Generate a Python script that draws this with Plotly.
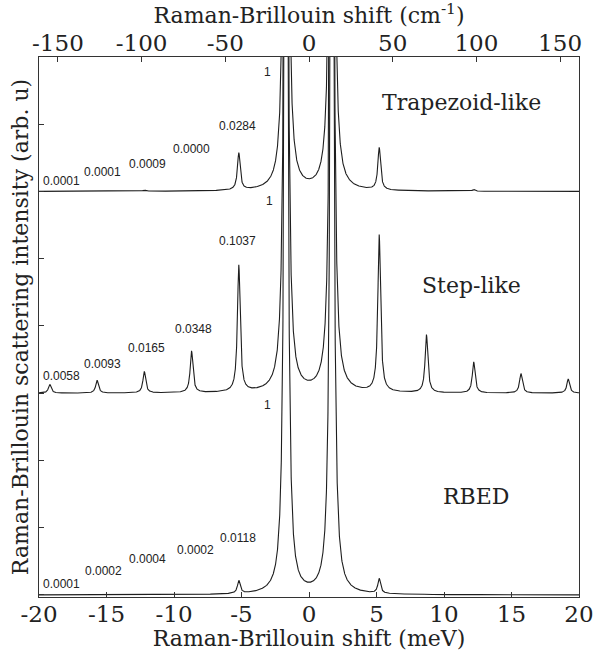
import numpy as np
import plotly.graph_objects as go

MEV_TO_CM = 8.0655  # 1 meV in cm^-1 (top axis)

# ---- data ----
peak_pos = [-19.2, -15.7, -12.2, -8.7, -5.2, -1.7, 1.7, 5.2, 8.7, 12.2, 15.7, 19.2]  # meV
# peak heights above each baseline (arb. units)
rbed_heights = [0.002, 0.004, 0.008, 0.004, 0.19, 19.0, 19.0, 0.22, 0.006, 0.012, 0.004, 0.003]
step_heights = [0.13, 0.19, 0.32, 0.62, 1.88, 19.0, 19.0, 2.33, 0.86, 0.46, 0.29, 0.21]
trap_heights = [0.002, 0.002, 0.017, 0.0, 0.55, 19.0, 19.0, 0.63, 0.0, 0.027, 0.0, 0.0]
peak_hwhm = 0.12  # meV
baselines = [0, 3, 6]
series_names = ["RBED", "Step-like", "Trapezoid-like"]

rbed_labels = ["0.0001", "0.0002", "0.0004", "0.0002", "0.0118", "1"]
step_labels = ["0.0058", "0.0093", "0.0165", "0.0348", "0.1037", "1"]
trap_labels = ["0.0001", "0.0001", "0.0009", "0.0000", "0.0284", "1"]

bottom_ticks = [-20, -15, -10, -5, 0, 5, 10, 15, 20]
bottom_ticktext = ["-20", "-15", "-10", "-5", "0", "5", "10", "15", "20"]
top_ticks = [-150, -100, -50, 0, 50, 100, 150]
top_ticktext = ["-150", "-100", "-50", "0", "50", "100", "150"]

# ---- label placement (layout only) ----
label_xy = [
    ([-18.3, -15.19, -11.93, -8.44, -5.26, -3.04], [0.16, 0.35, 0.53, 0.67, 0.84, 2.82]),
    ([-18.3, -15.26, -12.07, -8.59, -5.26, -2.89], [3.25, 3.43, 3.67, 3.96, 5.27, 5.86]),
    ([-18.3, -15.26, -12.0, -8.74, -5.33, -3.11], [6.15, 6.29, 6.41, 6.63, 6.97, 7.77]),
]
name_xy = [(12.37, 1.47), (12.07, 4.6), (11.26, 7.33)]

x = np.linspace(-20, 20, 8001)


def spectrum(heights, base):
    y = np.full_like(x, float(base))
    for p, h in zip(peak_pos, heights):
        y += h * peak_hwhm ** 2 / ((x - p) ** 2 + peak_hwhm ** 2)
    return y


fig = go.Figure()
for heights, base, name in zip([rbed_heights, step_heights, trap_heights], baselines, series_names):
    fig.add_trace(go.Scatter(x=x, y=spectrum(heights, base), mode="lines", name=name,
                             line=dict(color="#1e1e1e", width=1.1), showlegend=False,
                             hoverinfo="skip"))
fig.add_trace(go.Scatter(x=[], y=[], xaxis="x2", showlegend=False, hoverinfo="skip"))

serif = "DejaVu Serif, Liberation Serif, serif"

annotations = []
for labels, (lx, ly) in zip([rbed_labels, step_labels, trap_labels], label_xy):
    for t, ax_, ay_ in zip(labels, lx, ly):
        annotations.append(dict(x=ax_, y=ay_, xref="x", yref="y", text=t, showarrow=False,
                                font=dict(family="Liberation Sans, Arial, sans-serif", size=12, color="#222")))
for name, (nx, ny) in zip(series_names, name_xy):
    annotations.append(dict(x=nx, y=ny, xref="x", yref="y", text=name, showarrow=False,
                            font=dict(family=serif, size=22, color="#222")))

fig.update_layout(
    width=596, height=651,
    margin=dict(l=39, r=17, t=57, b=54),
    paper_bgcolor="white", plot_bgcolor="white",
    font=dict(family=serif, color="#222"),
    annotations=annotations,
    xaxis=dict(range=[-20, 20], tickvals=bottom_ticks, ticktext=bottom_ticktext,
               ticks="inside", ticklen=5, tickcolor="#333",
               showline=True, linecolor="#333", linewidth=1, mirror=True, showgrid=False, zeroline=False,
               tickfont=dict(family=serif, size=23, color="#222"), ticklabelstandoff=-4,
               title=dict(text="Raman-Brillouin shift (meV)", font=dict(family=serif, size=22, color="#222"),
                          standoff=6),
               automargin=False),
    xaxis2=dict(overlaying="x", side="top", range=[-20 * MEV_TO_CM, 20 * MEV_TO_CM],
                tickvals=top_ticks, ticktext=top_ticktext,
                ticks="inside", ticklen=5, tickcolor="#333", showline=False, showgrid=False, zeroline=False,
                tickfont=dict(family=serif, size=23, color="#222"),
                title=dict(text="Raman-Brillouin shift (cm<sup>-1</sup>)",
                           font=dict(family=serif, size=22, color="#222"), standoff=0),
                automargin=False),
    yaxis=dict(range=[-0.03, 8], tickvals=list(range(0, 9)), ticks="inside", ticklen=5, tickcolor="#333",
               showticklabels=False, showline=True, linecolor="#333", linewidth=1, mirror=True,
               showgrid=False, zeroline=False,
               title=dict(text="Raman-Brillouin scattering intensity (arb. u)",
                          font=dict(family=serif, size=22, color="#222"), standoff=3),
               automargin=False),
)

fig.write_html("out.html", config={"displayModeBar": False},
               post_script="document.body.style.margin='0px';")
